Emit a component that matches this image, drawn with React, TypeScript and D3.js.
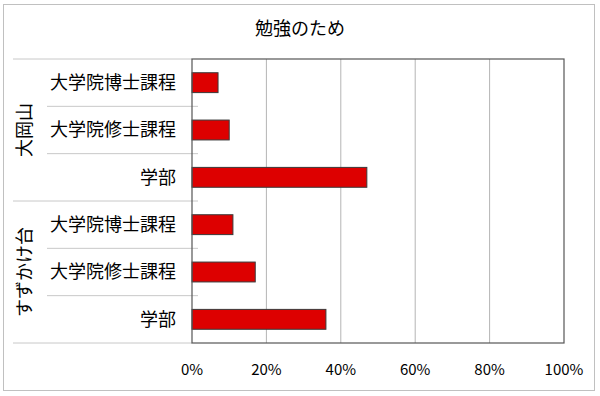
import React from "react";
import * as d3 from "d3";

const title = "勉強のため";
const groups = ["大岡山", "すずかけ台"];
const categories = ["大学院博士課程", "大学院修士課程", "学部"];
const values = [
  [7, 10, 47],
  [11, 17, 36],
];
const ticks = [0, 20, 40, 60, 80, 100];

const W = 600, H = 396;
const FONT = "'Noto Sans CJK JP', 'Noto Sans', sans-serif";

export default function App() {
  const plot = { left: 192, right: 564, top: 59, bottom: 343 };
  const rows = groups.flatMap((g, gi) => categories.map((c, ci) => ({ key: `${gi}-${ci}`, group: g, gi, cat: c, value: values[gi][ci] })));
  const x = d3.scaleLinear().domain([0, 100]).range([plot.left, plot.right]);
  const y = d3.scaleBand<string>().domain(rows.map(r => r.key)).range([plot.top, plot.bottom]).paddingInner(0.58).paddingOuter(0.29);
  const band = (plot.bottom - plot.top) / rows.length;
  const per = categories.length;
  return (
    <svg width={W} height={H} style={{ position: "absolute", left: 0, top: 0 }} fontFamily={FONT}>
      <rect x={3.5} y={4.5} width={591} height={386} fill="#fff" stroke="#c0c0c0" strokeWidth={1} />
      <text x={300} y={35} textAnchor="middle" fontSize={18} fill="#000">{title}</text>
      {ticks.slice(1, -1).map(t => (
        <line key={t} x1={x(t)} x2={x(t)} y1={plot.top} y2={plot.bottom} stroke="#b4b4b4" strokeWidth={1} />
      ))}
      {rows.map((r, i) => {
        if (i === 0) return null;
        const yy = plot.top + i * band;
        const isGroup = i % per === 0;
        return <line key={r.key} x1={isGroup ? 13 : 47} x2={198} y1={yy} y2={yy} stroke="#c8c8c8" strokeWidth={1} />;
      })}
      <line x1={13} x2={plot.left} y1={plot.top} y2={plot.top} stroke="#c8c8c8" />
      <line x1={13} x2={plot.left} y1={plot.bottom} y2={plot.bottom} stroke="#c8c8c8" />
      {rows.map(r => (
        <rect key={r.key} x={x(0)} y={y(r.key)!} width={x(r.value) - x(0)} height={y.bandwidth()} fill="#dd0000" stroke="#3a3a3a" strokeWidth={1} />
      ))}
      <rect x={plot.left} y={plot.top} width={plot.right - plot.left} height={plot.bottom - plot.top} fill="none" stroke="#555" strokeWidth={1.2} />
      {rows.map(r => (
        <text key={r.key} x={176} y={y(r.key)! + y.bandwidth() / 2} dy="0.36em" textAnchor="end" fontSize={18} fill="#000">{r.cat}</text>
      ))}
      {groups.map((g, gi) => {
        const cy = plot.top + (gi * per + per / 2) * band;
        return <text key={g} transform={`translate(25,${cy}) rotate(-90)`} dy="0.36em" textAnchor="middle" fontSize={18} fill="#000">{g}</text>;
      })}
      {ticks.map(t => (
        <text key={t} x={x(t)} y={370} dy="0.35em" textAnchor="middle" fontSize={15} fill="#000">{`${t}%`}</text>
      ))}
    </svg>
  );
}
